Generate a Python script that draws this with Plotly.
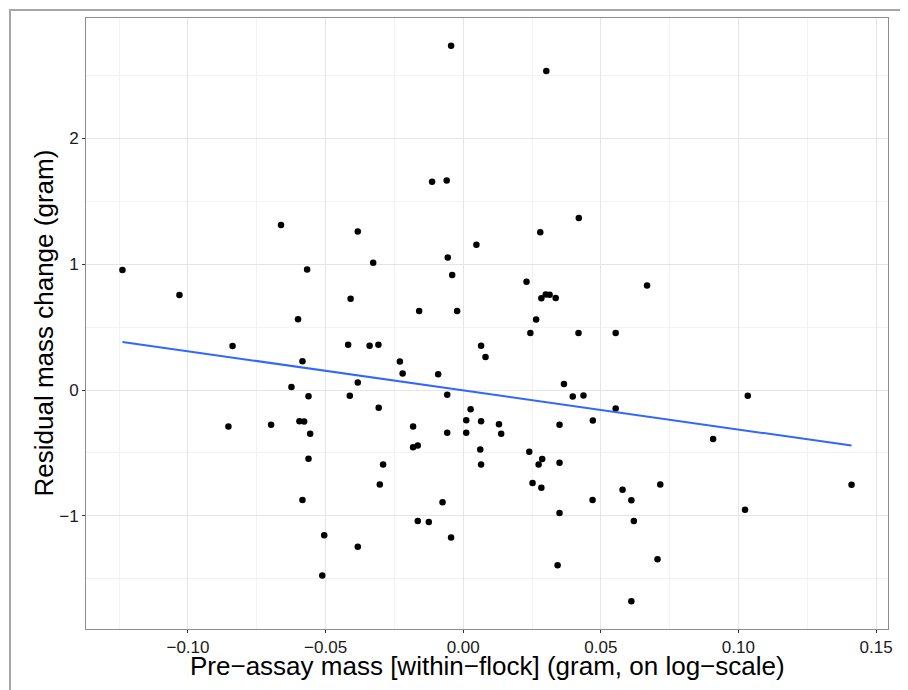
"""
Residual mass change against within-flock pre-assay mass,
with a least-squares line (ggplot theme_bw look).
"""

import numpy as np
import plotly.graph_objects as go

# Pre-assay mass [within-flock] (log-scale gram)
pre_mass = [
    -0.1238, -0.1031, -0.0662, -0.0567, -0.0600, -0.0383, -0.0409,
    -0.0044, 0.0302, -0.0113, -0.0060, 0.0420, 0.0280, 0.0048,
    -0.0056, -0.0327, -0.0040, 0.0230, 0.0284, 0.0300, 0.0314,
    0.0336, -0.0160, -0.0022, 0.0265, 0.0668,
    -0.0838, -0.0418, -0.0584, -0.0383, -0.0624, -0.0562, -0.0412,
    -0.0853, -0.0698, -0.0595, -0.0578, -0.0556, -0.0562, -0.0584,
    -0.0505, -0.0383, -0.0512,
    0.0244, 0.0419, 0.0554, -0.0340, -0.0308, 0.0065, 0.0081,
    -0.0230, -0.0220, -0.0091, 0.0366, -0.0058, 0.0398, 0.0437,
    -0.0307, 0.0027, 0.0554, 0.0011, 0.0065, 0.0471, 0.0130,
    0.0350, -0.0182, -0.0058, 0.0011, 0.0138, -0.0182, -0.0165,
    0.0062, 0.0240, -0.0291, 0.0065, 0.0274, 0.0287, 0.0350,
    -0.0303, 0.0252, 0.0284, 0.0579, 0.0470, -0.0075, 0.0350,
    -0.0165, -0.0125, -0.0044, 0.0343,
    0.1034, 0.0908, 0.0716, 0.1411, 0.0611, 0.1024, 0.0620,
    0.0706, 0.0611,
]

# Residual mass change (gram)
resid_change = [
    0.954, 0.755, 1.313, 0.959, 0.562, 1.260, 0.726,
    2.737, 2.536, 1.655, 1.665, 1.367, 1.255, 1.155,
    1.054, 1.012, 0.914, 0.861, 0.729, 0.760, 0.758,
    0.732, 0.628, 0.628, 0.560, 0.832,
    0.351, 0.361, 0.229, 0.060, 0.025, -0.049, -0.046,
    -0.290, -0.276, -0.248, -0.250, -0.348, -0.546, -0.875,
    -1.155, -1.245, -1.475,
    0.454, 0.454, 0.454, 0.353, 0.361, 0.353, 0.263,
    0.226, 0.131, 0.126, 0.049, -0.038, -0.052, -0.044,
    -0.141, -0.152, -0.147, -0.240, -0.248, -0.242, -0.271,
    -0.276, -0.290, -0.340, -0.340, -0.348, -0.454, -0.440,
    -0.472, -0.491, -0.591, -0.591, -0.591, -0.549, -0.578,
    -0.750, -0.739, -0.776, -0.792, -0.875, -0.893, -0.978,
    -1.041, -1.049, -1.173, -1.393,
    -0.046, -0.390, -0.750, -0.753, -0.877, -0.951, -1.041,
    -1.345, -1.679,
]

x_ticks = [-0.10, -0.05, 0.00, 0.05, 0.10, 0.15]
x_tick_labels = ["\u22120.10", "\u22120.05", "0.00", "0.05", "0.10", "0.15"]
y_ticks = [-1, 0, 1, 2]
y_tick_labels = ["\u22121", "0", "1", "2"]

x_title = "Pre\u2212assay mass [within\u2212flock] (gram, on log\u2212scale)"
y_title = "Residual mass change (gram)"

# the page body adds an 8px offset, so the figure is 900x682 inside the window
W, H = 900, 682
M = dict(l=78, r=20, t=10, b=61)
FONT = "Liberation Sans, Arial, Helvetica, sans-serif"


def expand(vals, frac=0.05):
    lo, hi = min(vals), max(vals)
    pad = (hi - lo) * frac
    return [lo - pad, hi + pad]


x = np.array(pre_mass)
y = np.array(resid_change)

# linear fit, like geom_smooth(method = "lm", se = FALSE)
slope, intercept = np.polyfit(x, y, 1)
x_fit = np.array([x.min(), x.max()])
y_fit = intercept + slope * x_fit

fig = go.Figure()

fig.add_trace(
    go.Scatter(
        x=pre_mass,
        y=resid_change,
        mode="markers",
        marker=dict(size=6.5, color="black"),
        hoverinfo="x+y",
        showlegend=False,
    )
)

fig.add_trace(
    go.Scatter(
        x=x_fit,
        y=y_fit,
        mode="lines",
        line=dict(color="#3366FF", width=2),
        hoverinfo="skip",
        showlegend=False,
    )
)

axis_common = dict(
    showline=True,
    mirror=True,
    linecolor="#8c8c8c",
    linewidth=1,
    ticks="outside",
    ticklen=3,
    tickcolor="#333333",
    tickwidth=1,
    showgrid=True,
    gridcolor="#e5e5e5",
    gridwidth=1,
    zeroline=False,
    tickfont=dict(size=17, color="#1a1a1a", family=FONT),
)

fig.update_xaxes(
    range=expand(pre_mass),
    tickmode="array",
    tickvals=x_ticks,
    ticktext=x_tick_labels,
    minor=dict(tick0=-0.125, dtick=0.05, showgrid=True, gridcolor="#f3f3f3", ticklen=0),
    **axis_common,
)

fig.update_yaxes(
    range=expand(resid_change),
    tickmode="array",
    tickvals=y_ticks,
    ticktext=y_tick_labels,
    minor=dict(tick0=-1.5, dtick=1, showgrid=True, gridcolor="#f3f3f3", ticklen=0),
    **axis_common,
)

pw = W - M["l"] - M["r"]
ph = H - M["t"] - M["b"]

# outer grey frame around the plot (runs past the right/bottom edge)
fig.add_shape(
    type="rect",
    xref="paper",
    yref="paper",
    x0=(2 - M["l"]) / pw,
    x1=(W + 20 - M["l"]) / pw,
    y0=(H - M["b"] - (H + 20)) / ph,
    y1=(H - M["b"] - 2) / ph,
    line=dict(color="#a6a6a6", width=2),
    layer="below",
)

fig.add_annotation(
    text=x_title,
    xref="paper",
    yref="paper",
    x=0.5,
    y=(H - M["b"] - 658) / ph,
    xanchor="center",
    yanchor="middle",
    showarrow=False,
    font=dict(size=26, color="black", family=FONT),
)

fig.add_annotation(
    text=y_title,
    xref="paper",
    yref="paper",
    x=(35 - M["l"]) / pw,
    y=0.5,
    xanchor="center",
    yanchor="middle",
    textangle=-90,
    showarrow=False,
    font=dict(size=26, color="black", family=FONT),
)

fig.update_layout(
    width=W,
    height=H,
    margin=M,
    plot_bgcolor="white",
    paper_bgcolor="white",
    font=dict(family=FONT),
)

fig.write_html("out.html")
print("Saved out.html")
